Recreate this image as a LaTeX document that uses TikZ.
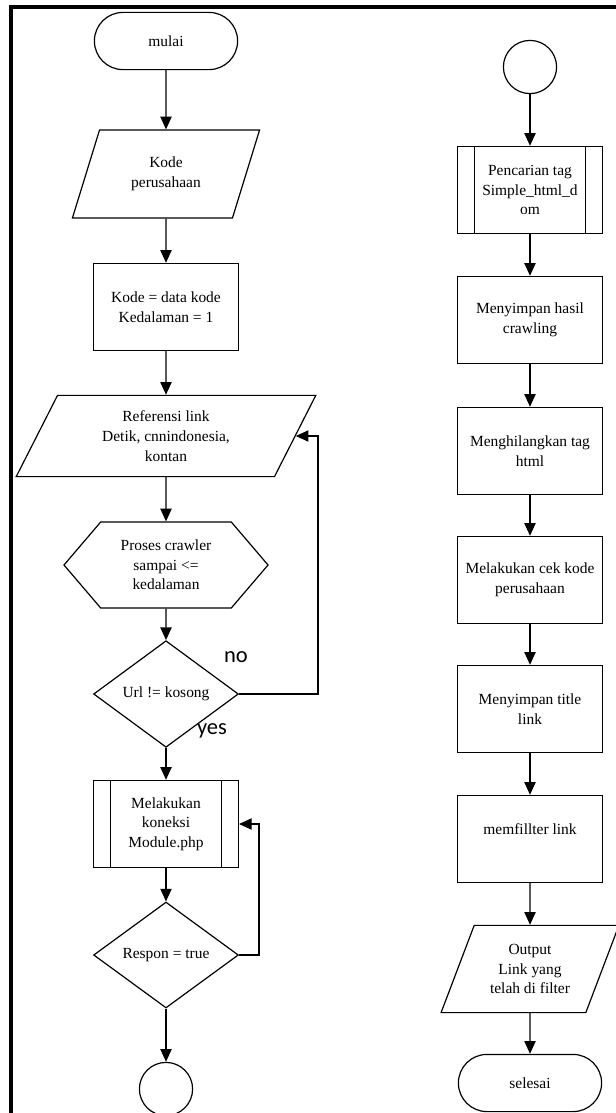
\documentclass[tikz,border=0pt]{standalone}
\usepackage{fontspec}
\setmainfont{Liberation Serif}
\newfontfamily\labelfont{Carlito}
\usetikzlibrary{shapes.geometric}
\usetikzlibrary{shapes.misc}
\usetikzlibrary{shapes.symbols}
\usetikzlibrary{arrows.meta}
\tikzset{>={Triangle[length=9pt,width=8pt]},
    every node/.style={
        font=\fontsize{11}{14}\selectfont,
        align=center,
        line width=0.85pt,
        inner sep=1pt},
    term/.style={
        draw, rounded rectangle,
        minimum width=3.65cm, minimum height=1.43cm},
    io/.style={
        draw, trapezium, trapezium stretches=true},
    proc/.style={
        draw, rectangle,
        minimum width=3.62cm, minimum height=2.18cm},
    subproc/.style={
        proc,
        path picture={
            \draw[line width=0.85pt] ([xshift=0.43cm]path picture bounding box.north west) -- ([xshift=0.43cm]path picture bounding box.south west);
            \draw[line width=0.85pt] ([xshift=-0.43cm]path picture bounding box.north east) -- ([xshift=-0.43cm]path picture bounding box.south east);}},
    prep/.style={
        draw, signal, signal to=west and east, signal pointer angle=99,
        minimum width=5.1cm, minimum height=2.15cm},
    decision/.style={
        draw, diamond, minimum width=3.62cm, minimum height=2.12cm},
    connector/.style={
        draw, circle, minimum size=1.33cm},
    answer/.style={
        font=\labelfont\fontsize{16}{18}\selectfont},
    loopline/.style={
        ->, line width=0.85pt},
    frame/.style={
        line width=2.2pt},
    every edge/.style={
        draw,
        ->,
        line width=0.85pt}}

\begin{document}
\begin{tikzpicture}[x=0.025cm, y=-0.025cm]
        \useasboundingbox (0,0) rectangle (616,1113);
        \draw[frame] (11,1113) -- (11,7) -- (616,7);

        % left column
        \node[term] (mulai) at (166,41) {mulai};
        \node[io, minimum width=4.68cm, minimum height=2.2cm,
            trapezium left angle=68, trapezium right angle=112] (kode) at (166,174) {Kode\\perusahaan};
        \node[proc] (data) at (166,307) {Kode = data kode\\Kedalaman = 1};
        \node[io, minimum width=7.5cm, minimum height=2.03cm,
            trapezium left angle=65, trapezium right angle=115] (ref) at (166,436) {Referensi link\\Detik, cnnindonesia,\\kontan};
        \node[prep] (crawler) at (166,565) {Proses crawler\\sampai <=\\kedalaman};
        \node[decision] (url) at (166,694) {Url != kosong};
        \node[answer] (no) at (236,657) {no};
        \node[answer] (yes) at (212,731) {yes};
        \node[subproc] (koneksi) at (166,824) {Melakukan\\koneksi\\Module.php};
        \node[decision] (respon) at (166,955) {Respon = true};
        \node[connector] (endA) at (166,1089) {};
        \coordinate (loopA) at (318,565);
        \coordinate (loopB) at (259,890);

        % right column
        \node[connector] (startB) at (530,67) {};
        \node[subproc] (tag) at (530,190) {Pencarian tag\\Simple\_html\_d\\om};
        \node[proc] (hasil) at (530,320) {Menyimpan hasil\\crawling};
        \node[proc] (html) at (530,451) {Menghilangkan tag\\html};
        \node[proc] (cek) at (530,580) {Melakukan cek kode\\perusahaan};
        \node[proc] (title) at (530,709) {Menyimpan title\\link};
        \node[proc] (filter) at (530,839) {memfillter link\\\mbox{}};
        \node[io, minimum width=4.48cm, minimum height=2.18cm,
            trapezium left angle=65, trapezium right angle=115] (output) at (530,969) {Output\\Link yang\\telah di filter};
        \node[term] (selesai) at (530,1083) {selesai};

        \draw (mulai) edge (kode);
        \draw (kode) edge (data);
        \draw (data) edge (ref);
        \draw (ref) edge (crawler);
        \draw (crawler) edge (url);
        \draw (url) edge (koneksi);
        \draw (koneksi) edge (respon);
        \draw (respon) edge (endA);
        \draw[loopline] (url.east) -| (loopA) |- (ref.east);
        \draw[loopline] (respon.east) -| (loopB) |- (koneksi.east);

        \draw (startB) edge (tag);
        \draw (tag) edge (hasil);
        \draw (hasil) edge (html);
        \draw (html) edge (cek);
        \draw (cek) edge (title);
        \draw (title) edge (filter);
        \draw (filter) edge (output);
        \draw (output) edge (selesai);
    \end{tikzpicture}
\end{document}
